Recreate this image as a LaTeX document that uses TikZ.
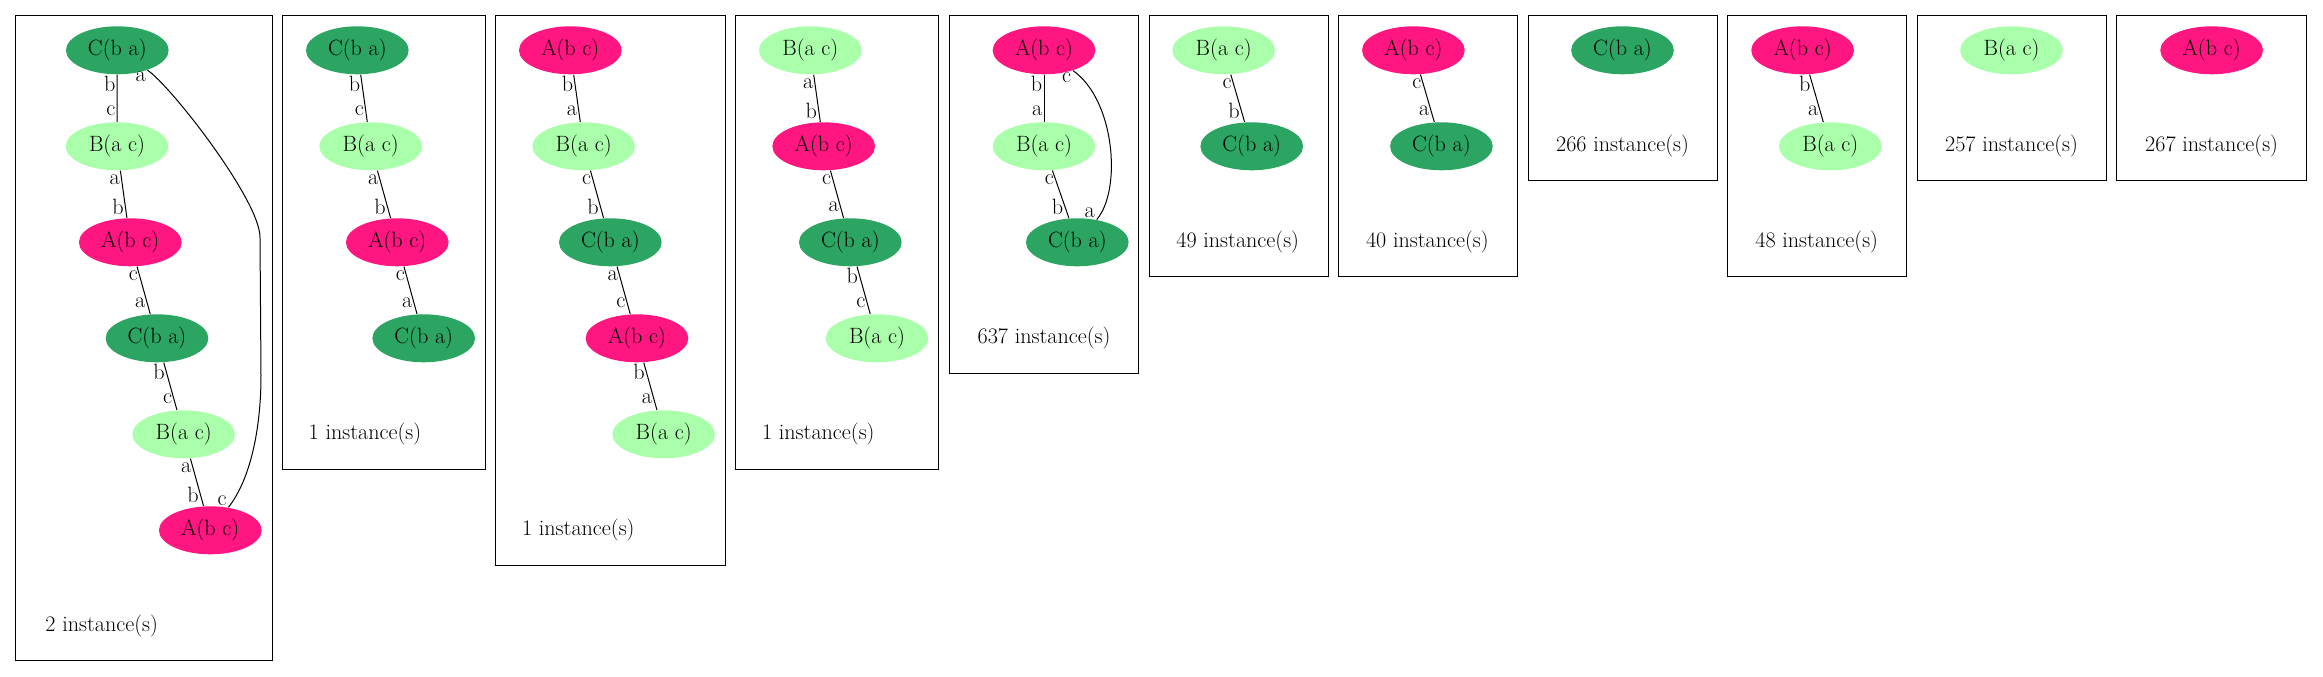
\documentclass[tikz,border=0pt]{standalone}
\usepackage{xcolor}
\usetikzlibrary{shapes.geometric}
\definecolor{seagreen}{RGB}{44,165,98}
\definecolor{palegreen}{RGB}{170,255,170}
\definecolor{deeppink}{RGB}{255,22,128}

\begin{document}
\begin{tikzpicture}[
                x=0.75pt, y=-0.75pt,
                line width=0.75pt,
                font=\fontsize{16.6}{20}\selectfont,
                seagreennode/.style={shape=ellipse, fill=seagreen, minimum width=77pt, minimum height=36pt, inner sep=0pt},
                palegreennode/.style={shape=ellipse, fill=palegreen, minimum width=77pt, minimum height=36pt, inner sep=0pt},
                deeppinknode/.style={shape=ellipse, fill=deeppink, minimum width=77pt, minimum height=36pt, inner sep=0pt},
                endlabel/.style={anchor=east, inner sep=1pt}
                ]
                \useasboundingbox (0,0) rectangle (2323,677);

                %% Clusters
                \foreach \l/\r/\b in {15.7/272.3/660, 282.7/485/469, 495.7/725.3/565, 735.7/938.7/469,
                                      949/1138.7/373.3, 1149/1328/276.7, 1338.7/1517.1/276.7, 1528.3/1717.2/181,
                                      1727.8/1906.8/276.7, 1917.4/2106.3/181, 2116.9/2306.4/181} {
                    \draw (\l,16) rectangle (\r,\b);
                }

                %% Cluster 1
                \node[seagreennode] (g1a) at (117.3,50.3) {C(b a)};
                \node[palegreennode] (g1b) at (117,146.3) {B(a c)};
                \node[deeppinknode] (g1c) at (130.3,242.3) {A(b c)};
                \node[seagreennode] (g1d) at (157,338.3) {C(b a)};
                \node[palegreennode] (g1e) at (183.7,434.3) {B(a c)};
                \node[deeppinknode] (g1f) at (210.3,530.3) {A(b c)};
                \node (t1) at (101.7,626.3) {2 instance(s)};
                \draw (g1a) -- node[endlabel, pos=0.2] {b} node[endlabel, pos=0.77] {c} (g1b);
                \draw (g1b) -- node[endlabel, pos=0.2] {a} node[endlabel, pos=0.77] {b} (g1c);
                \draw (g1c) -- node[endlabel, pos=0.2] {c} node[endlabel, pos=0.77] {a} (g1d);
                \draw (g1d) -- node[endlabel, pos=0.2] {b} node[endlabel, pos=0.77] {c} (g1e);
                \draw (g1e) -- node[endlabel, pos=0.2] {a} node[endlabel, pos=0.77] {b} (g1f);
                \draw (g1a) .. controls (170,85) and (260,200) .. (260,237.4) node[pos=0, anchor=north east, inner sep=1pt] {a}
                    -- (261,375.5) .. controls (261,430) and (250,480) .. (g1f) node[pos=1, anchor=south east, inner sep=1pt] {c};

                %% Cluster 2
                \node[seagreennode] (g2a) at (357.3,50.3) {C(b a)};
                \node[palegreennode] (g2b) at (370.7,146.3) {B(a c)};
                \node[deeppinknode] (g2c) at (397.3,242.3) {A(b c)};
                \node[seagreennode] (g2d) at (423.7,338.3) {C(b a)};
                \node (t2) at (365,434.3) {1 instance(s)};
                \draw (g2a) -- node[endlabel, pos=0.2] {b} node[endlabel, pos=0.77] {c} (g2b);
                \draw (g2b) -- node[endlabel, pos=0.2] {a} node[endlabel, pos=0.77] {b} (g2c);
                \draw (g2c) -- node[endlabel, pos=0.2] {c} node[endlabel, pos=0.77] {a} (g2d);

                %% Cluster 3
                \node[deeppinknode] (g3a) at (570.3,50.3) {A(b c)};
                \node[palegreennode] (g3b) at (583.7,146.3) {B(a c)};
                \node[seagreennode] (g3c) at (610.3,242.3) {C(b a)};
                \node[deeppinknode] (g3d) at (637,338.3) {A(b c)};
                \node[palegreennode] (g3e) at (663.7,434.3) {B(a c)};
                \node (t3) at (578.3,530.3) {1 instance(s)};
                \draw (g3a) -- node[endlabel, pos=0.2] {b} node[endlabel, pos=0.77] {a} (g3b);
                \draw (g3b) -- node[endlabel, pos=0.2] {c} node[endlabel, pos=0.77] {b} (g3c);
                \draw (g3c) -- node[endlabel, pos=0.2] {a} node[endlabel, pos=0.77] {c} (g3d);
                \draw (g3d) -- node[endlabel, pos=0.2] {b} node[endlabel, pos=0.77] {a} (g3e);

                %% Cluster 4
                \node[palegreennode] (g4a) at (810.3,50.3) {B(a c)};
                \node[deeppinknode] (g4b) at (823.7,146.3) {A(b c)};
                \node[seagreennode] (g4c) at (850.3,242.3) {C(b a)};
                \node[palegreennode] (g4d) at (877,338.3) {B(a c)};
                \node (t4) at (818.3,434.3) {1 instance(s)};
                \draw (g4a) -- node[endlabel, pos=0.2] {a} node[endlabel, pos=0.77] {b} (g4b);
                \draw (g4b) -- node[endlabel, pos=0.2] {c} node[endlabel, pos=0.77] {a} (g4c);
                \draw (g4c) -- node[endlabel, pos=0.2] {b} node[endlabel, pos=0.77] {c} (g4d);

                %% Cluster 5
                \node[deeppinknode] (g5a) at (1044,50.3) {A(b c)};
                \node[palegreennode] (g5b) at (1044,146.3) {B(a c)};
                \node[seagreennode] (g5c) at (1077.3,242.3) {C(b a)};
                \node (t5) at (1044,338.3) {637 instance(s)};
                \draw (g5a) -- node[endlabel, pos=0.2] {b} node[endlabel, pos=0.77] {a} (g5b);
                \draw (g5b) -- node[endlabel, pos=0.2] {c} node[endlabel, pos=0.77] {b} (g5c);
                \draw (g5a) .. controls (1115,100) and (1122,190) .. (g5c)
                    node[pos=0, anchor=north east, inner sep=1pt] {c} node[pos=1, anchor=south east, inner sep=1pt] {a};

                %% Cluster 6
                \node[palegreennode] (g6a) at (1223.7,50.3) {B(a c)};
                \node[seagreennode] (g6b) at (1251.7,146.3) {C(b a)};
                \node (t6) at (1237.7,242.3) {49 instance(s)};
                \draw (g6a) -- node[endlabel, pos=0.2] {c} node[endlabel, pos=0.77] {b} (g6b);

                %% Cluster 7
                \node[deeppinknode] (g7a) at (1413.4,50.3) {A(b c)};
                \node[seagreennode] (g7b) at (1441.4,146.3) {C(b a)};
                \node (t7) at (1427.4,242.3) {40 instance(s)};
                \draw (g7a) -- node[endlabel, pos=0.2] {c} node[endlabel, pos=0.77] {a} (g7b);

                %% Cluster 8
                \node[seagreennode] (g8a) at (1622.5,50.3) {C(b a)};
                \node (t8) at (1622.5,146.3) {266 instance(s)};

                %% Cluster 9
                \node[deeppinknode] (g9a) at (1802.6,50.3) {A(b c)};
                \node[palegreennode] (g9b) at (1830.3,146.3) {B(a c)};
                \node (t9) at (1816.7,242.3) {48 instance(s)};
                \draw (g9a) -- node[endlabel, pos=0.2] {b} node[endlabel, pos=0.77] {a} (g9b);

                %% Cluster 10
                \node[palegreennode] (g10a) at (2011.5,50.3) {B(a c)};
                \node (t10) at (2011.5,146.3) {257 instance(s)};

                %% Cluster 11
                \node[deeppinknode] (g11a) at (2211.6,50.3) {A(b c)};
                \node (t11) at (2211.6,146.3) {267 instance(s)};
\end{tikzpicture}
\end{document}
